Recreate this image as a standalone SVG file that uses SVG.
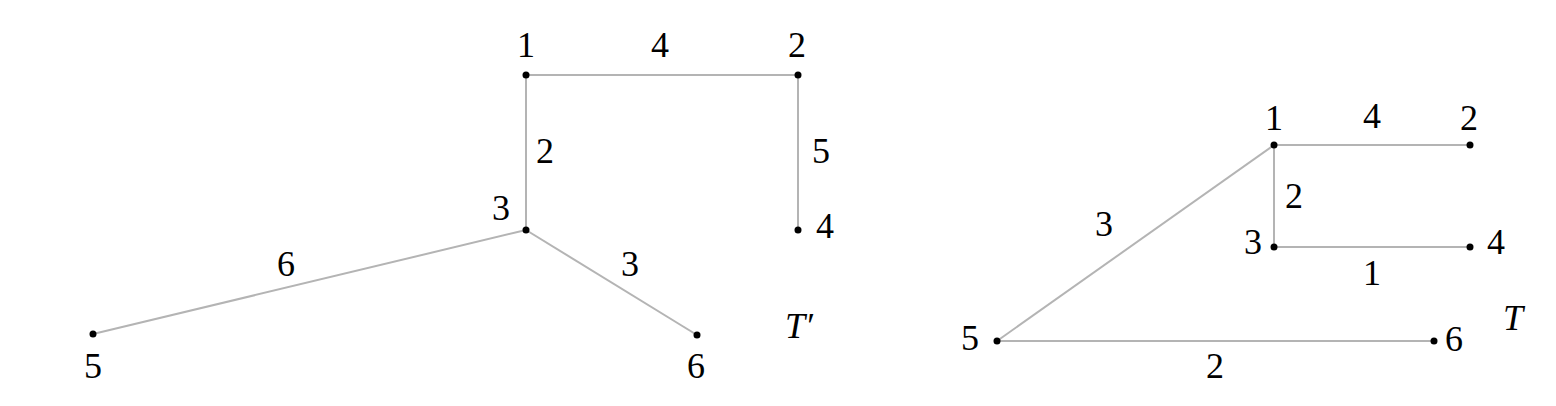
<svg xmlns="http://www.w3.org/2000/svg" width="1556" height="406" viewBox="0 0 1556 406">
<style>
.e{stroke:#b4b4b4;stroke-width:2;fill:none}
.d{fill:#000}
text{font-family:"Liberation Serif","Times New Roman",serif;font-size:36px;fill:#000;text-anchor:middle}
.i{font-style:italic}
</style>
<rect width="1556" height="406" fill="#fff"/>
<g id="edges">
<line class="e" x1="526" y1="75" x2="798" y2="75"/>
<line class="e" x1="526" y1="75" x2="526" y2="230"/>
<line class="e" x1="798" y1="75" x2="798" y2="230"/>
<line class="e" x1="526" y1="230" x2="93" y2="334"/>
<line class="e" x1="526" y1="230" x2="697" y2="335"/>
<line class="e" x1="1274" y1="145" x2="1470" y2="145"/>
<line class="e" x1="1274" y1="145" x2="1274" y2="247"/>
<line class="e" x1="1274" y1="247" x2="1470" y2="247"/>
<line class="e" x1="1274" y1="145" x2="997" y2="341"/>
<line class="e" x1="997" y1="341" x2="1434" y2="341"/>
</g>
<g id="edge-labels">
<text x="660" y="57">4</text>
<text x="545" y="163">2</text>
<text x="821" y="163">5</text>
<text x="286" y="276">6</text>
<text x="630" y="276">3</text>
<text x="1372" y="128">4</text>
<text x="1294" y="208">2</text>
<text x="1372" y="285">1</text>
<text x="1104" y="236">3</text>
<text x="1215" y="378">2</text>
</g>
<g id="L1"><circle class="d" cx="526" cy="75" r="3.5"/><text x="526" y="57">1</text></g>
<g id="L2"><circle class="d" cx="798" cy="75" r="3.5"/><text x="797" y="57">2</text></g>
<g id="L3"><circle class="d" cx="526" cy="230" r="3.5"/><text x="501" y="220">3</text></g>
<g id="L4"><circle class="d" cx="798" cy="230" r="3.5"/><text x="825" y="238">4</text></g>
<g id="L5"><circle class="d" cx="93" cy="334" r="3.5"/><text x="93" y="378">5</text></g>
<g id="L6"><circle class="d" cx="697" cy="335" r="3.5"/><text x="696" y="378">6</text></g>
<g id="LT"><text class="i" x="799" y="338">T′</text></g>
<g id="R1"><circle class="d" cx="1274" cy="145" r="3.5"/><text x="1274" y="130">1</text></g>
<g id="R2"><circle class="d" cx="1470" cy="145" r="3.5"/><text x="1469" y="130">2</text></g>
<g id="R3"><circle class="d" cx="1274" cy="247" r="3.5"/><text x="1253" y="254">3</text></g>
<g id="R4"><circle class="d" cx="1470" cy="247" r="3.5"/><text x="1496" y="254">4</text></g>
<g id="R5"><circle class="d" cx="997" cy="341" r="3.5"/><text x="970" y="350">5</text></g>
<g id="R6"><circle class="d" cx="1434" cy="341" r="3.5"/><text x="1454" y="351">6</text></g>
<g id="RT"><text class="i" x="1513" y="330">T</text></g>
</svg>
